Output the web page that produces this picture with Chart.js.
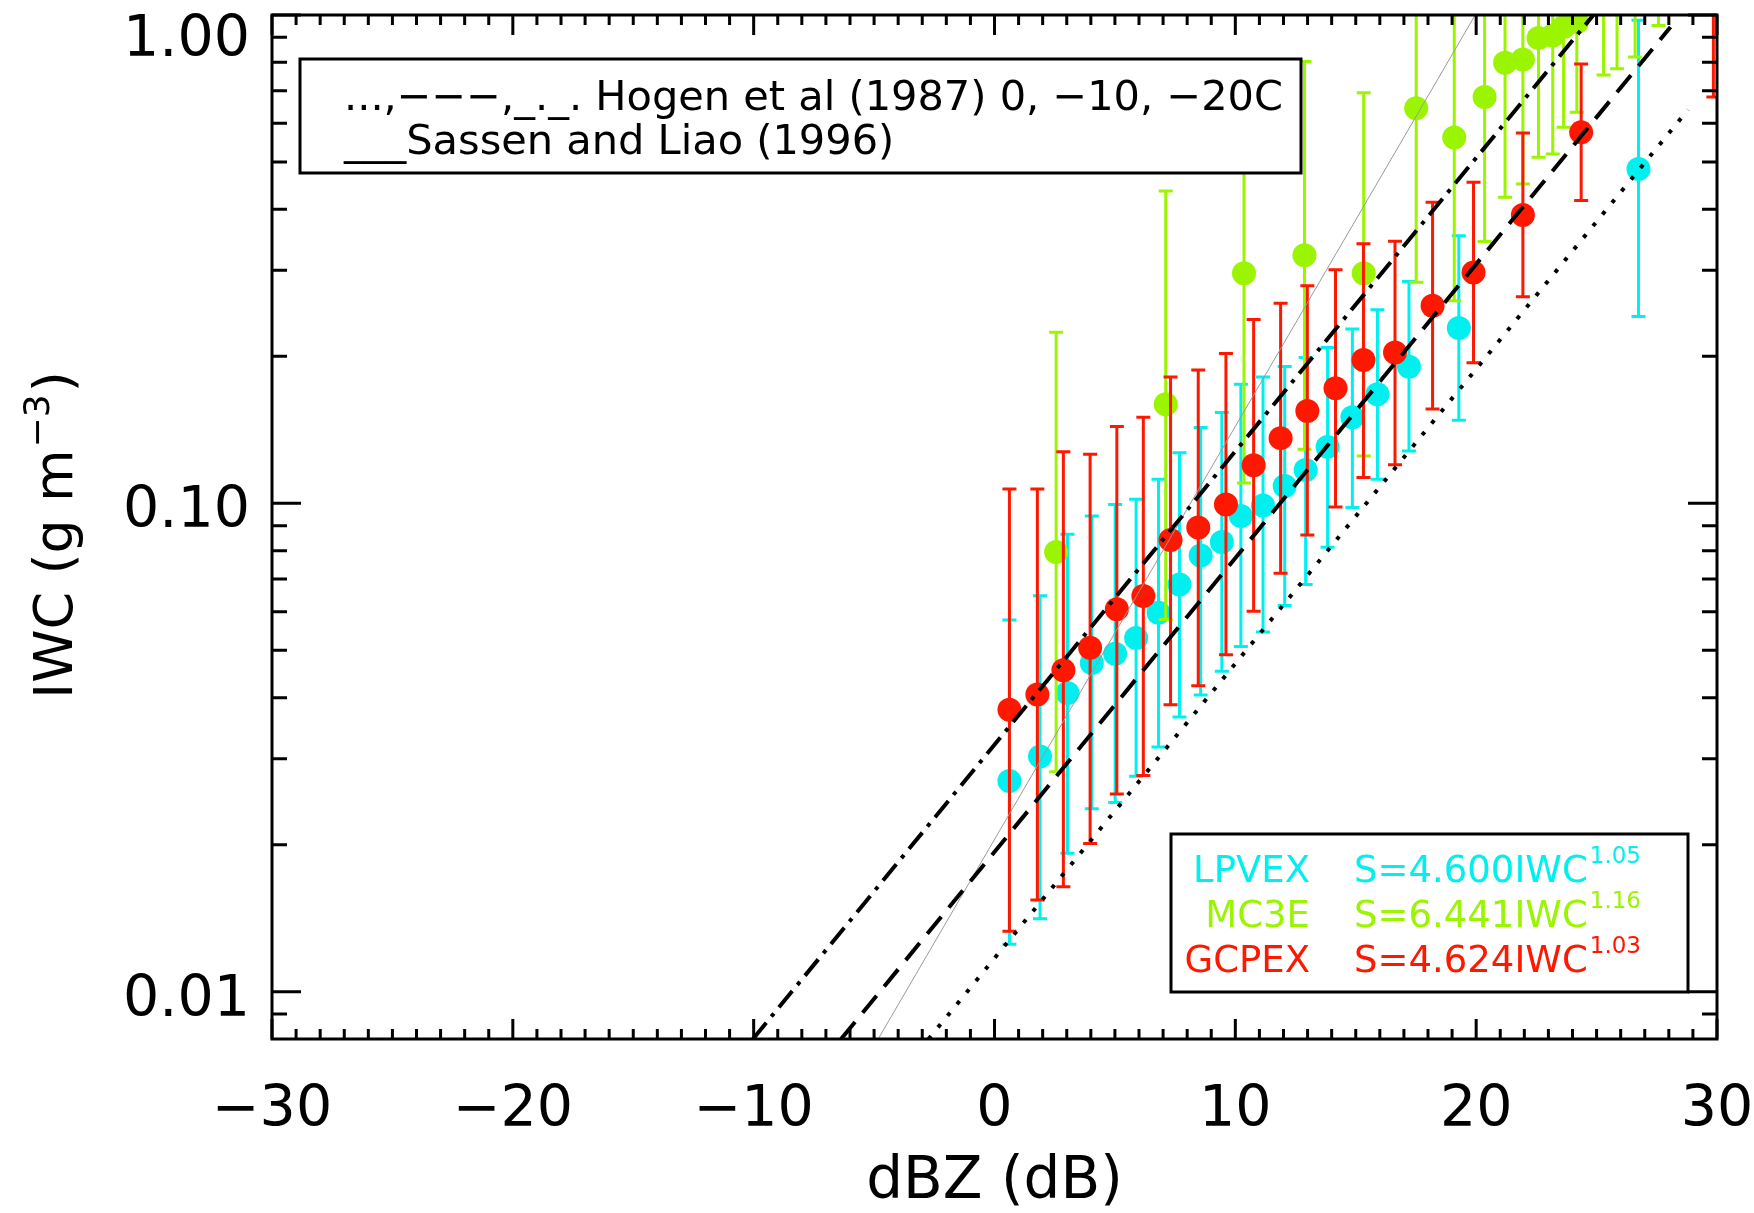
<!DOCTYPE html>
<html>
<head>
<meta charset="utf-8">
<script src="https://cdn.jsdelivr.net/npm/chart.js@4.4.0/dist/chart.umd.min.js"></script>
<style>
html, body { margin: 0; padding: 0; background: #fff; }
</style>
</head>
<body>
<canvas id="iwcChart" width="1754" height="1213"></canvas>
<script>
// LPVEX (cyan)
const lpvexDbz = [0.62, 1.89, 3.03, 4.04, 5.01, 5.88, 6.81, 7.68, 8.56, 9.44, 10.23, 11.15, 12.05, 12.92, 13.83, 14.86, 15.90, 17.21, 19.28, 26.74];
const lpvexIwc = [0.0270, 0.0303, 0.0409, 0.0471, 0.0492, 0.0530, 0.0597, 0.0682, 0.0782, 0.0833, 0.0942, 0.0990, 0.1085, 0.1170, 0.1305, 0.1500, 0.1673, 0.1905, 0.2286, 0.484];
const lpvexHi = [0.0577, 0.0647, 0.0864, 0.0942, 0.0995, 0.102, 0.112, 0.127, 0.143, 0.1535, 0.1754, 0.1815, 0.1906, 0.199, 0.2085, 0.2274, 0.249, 0.2847, 0.353, 0.975];
const lpvexLo = [0.0125, 0.0141, 0.0192, 0.0237, 0.0244, 0.0276, 0.0317, 0.0365, 0.0405, 0.0453, 0.0509, 0.0545, 0.0618, 0.0682, 0.0813, 0.098, 0.112, 0.128, 0.148, 0.2414];

// MC3E (green)
const mc3eDbz = [2.56, 7.11, 10.36, 12.87, 15.33, 17.51, 19.09, 20.35, 21.20, 21.94, 22.59, 23.18, 23.63, 24.18, 25.29, 25.85, 26.60, 27.57];
const mc3eIwc = [0.0795, 0.1595, 0.296, 0.322, 0.296, 0.644, 0.561, 0.679, 0.798, 0.811, 0.897, 0.908, 0.945, 0.967, 1.20, 1.25, 1.30, 1.40];
const mc3eHi = [0.224, 0.436, 0.794, 0.803, 0.693, 1.5, 1.5, 1.5, 1.6, 1.6, 1.7, 1.7, 1.8, 1.8, 2.0, 2.0, 2.0, 2.0];
const mc3eLo = [0.0282, 0.0578, 0.110, 0.129, 0.125, 0.2835, 0.260, 0.3435, 0.4235, 0.451, 0.5115, 0.519, 0.589, 0.632, 0.754, 0.776, 0.820, 0.952];

// GCPEX (red)
const gcpexDbz = [0.62, 1.78, 2.86, 3.97, 5.08, 6.18, 7.31, 8.46, 9.61, 10.76, 11.88, 12.99, 14.16, 15.32, 16.63, 18.19, 19.89, 21.94, 24.36, 29.85];
const gcpexIwc = [0.0378, 0.0406, 0.0455, 0.0506, 0.0607, 0.0646, 0.0841, 0.0892, 0.0995, 0.1197, 0.136, 0.1545, 0.172, 0.1965, 0.2037, 0.2538, 0.297, 0.3895, 0.575, 1.15];
const gcpexHi = [0.107, 0.107, 0.1276, 0.126, 0.1436, 0.150, 0.1815, 0.1875, 0.2027, 0.238, 0.257, 0.279, 0.301, 0.340, 0.344, 0.4135, 0.4545, 0.573, 0.794, 1.9];
const gcpexLo = [0.0133, 0.0154, 0.0164, 0.0201, 0.0254, 0.0277, 0.0387, 0.0423, 0.0490, 0.0601, 0.0719, 0.0861, 0.0983, 0.113, 0.120, 0.156, 0.194, 0.265, 0.417, 0.679];

// reference relations, end points
const hogen0Dbz = [-2.74, 28.8];
const hogen0Iwc = [0.008, 0.64];
const hogen10Dbz = [-6.37, 28.07];
const hogen10Iwc = [0.008, 0.945];
const hogen20Dbz = [-10.03, 24.87];
const hogen20Iwc = [0.008, 1.0];
const sassenDbz = [-4.83, 19.96];
const sassenIwc = [0.008, 1.0];

// axes
const xTickValues = [-30, -20, -10, 0, 10, 20, 30];
const xTickLabels = ['\u221230', '\u221220', '\u221210', '0', '10', '20', '30'];
const yTickValues = [0.01, 0.1, 1];
const yTickLabels = ['0.01', '0.10', '1.00'];

// fit legend
const fitNames = ['LPVEX', 'MC3E', 'GCPEX'];
const fitCoefs = ['4.600', '6.441', '4.624'];
const fitExps = ['1.05', '1.16', '1.03'];

const CYAN = '#00F0F0';
const GREEN = '#9BF400';
const RED = '#FF1800';
const fitColors = [CYAN, GREEN, RED];
const FONT = "'DejaVu Sans ExtraLight', 'DejaVu Sans', sans-serif";

const toPoints = (xs, ys) => xs.map((x, i) => ({ x: x, y: ys[i] }));

const pointSet = (label, xs, ys, lo, hi, color, order) => ({
    label: label,
    data: toPoints(xs, ys),
    errLo: lo,
    errHi: hi,
    showLine: false,
    pointRadius: 12,
    pointHoverRadius: 12,
    pointBackgroundColor: color,
    pointBorderWidth: 0,
    errColor: color,
    clip: 0,
    order: order
});

const lineSet = (label, xs, ys, dash, width, color) => ({
    label: label,
    data: toPoints(xs, ys),
    showLine: true,
    pointRadius: 0,
    borderColor: color,
    borderWidth: width,
    borderDash: dash,
    clip: 0,
    order: 0
});

// error bars, ticks, labels and the two legend boxes
const idlPlot = {
    id: 'idlPlot',
    beforeDatasetDraw(chart, args) {
        const ds = chart.data.datasets[args.index];
        if (!ds.errLo) return;
        const { ctx, chartArea: a, scales: { x, y } } = chart;
        ctx.save();
        ctx.beginPath();
        ctx.rect(a.left, a.top, a.right - a.left, a.bottom - a.top);
        ctx.clip();
        ctx.strokeStyle = ds.errColor;
        ctx.lineWidth = 3;
        ds.data.forEach((p, i) => {
            const px = x.getPixelForValue(p.x);
            const lo = y.getPixelForValue(ds.errLo[i]);
            const hi = y.getPixelForValue(ds.errHi[i]);
            ctx.beginPath();
            ctx.moveTo(px, lo);
            ctx.lineTo(px, hi);
            ctx.moveTo(px - 7, lo);
            ctx.lineTo(px + 7, lo);
            ctx.moveTo(px - 7, hi);
            ctx.lineTo(px + 7, hi);
            ctx.stroke();
        });
        ctx.restore();
    },
    afterDraw(chart) {
        const { ctx, chartArea: a, scales: { x, y } } = chart;
        ctx.save();
        ctx.strokeStyle = '#000';
        ctx.fillStyle = '#000';
        ctx.lineWidth = 3;

        // ticks on all four sides, pointing inward
        ctx.beginPath();
        for (let v = -30; v <= 30; v++) {
            const px = x.getPixelForValue(v);
            const len = v % 10 === 0 ? 20 : 10;
            ctx.moveTo(px, a.bottom);
            ctx.lineTo(px, a.bottom - len);
            ctx.moveTo(px, a.top);
            ctx.lineTo(px, a.top + len);
        }
        for (let e = -3; e <= 0; e++) {
            for (let m = 1; m <= 9; m++) {
                const v = m * Math.pow(10, e);
                if (v < y.min * 1.001 || v > y.max * 1.001) continue;
                const py = y.getPixelForValue(v);
                const len = m === 1 ? 29 : 15;
                ctx.moveTo(a.left, py);
                ctx.lineTo(a.left + len, py);
                ctx.moveTo(a.right, py);
                ctx.lineTo(a.right - len, py);
            }
        }
        ctx.stroke();
        ctx.strokeRect(a.left, a.top, a.right - a.left, a.bottom - a.top);

        // tick labels
        ctx.font = '57px ' + FONT;
        ctx.textBaseline = 'alphabetic';
        ctx.textAlign = 'center';
        xTickValues.forEach((v, i) => {
            ctx.fillText(xTickLabels[i], x.getPixelForValue(v), a.bottom + 87);
        });
        ctx.textAlign = 'right';
        yTickValues.forEach((v, i) => {
            const base = Math.max(y.getPixelForValue(v) + 24, a.top + 41);
            ctx.fillText(yTickLabels[i], a.left - 22, base);
        });

        // axis titles
        ctx.font = '58px ' + FONT;
        ctx.textAlign = 'center';
        ctx.fillText('dBZ (dB)', (a.left + a.right) / 2, a.bottom + 159);

        ctx.save();
        ctx.translate(72, (a.top + a.bottom) / 2 + 8);
        ctx.rotate(-Math.PI / 2);
        ctx.textAlign = 'left';
        const t1 = 'IWC (g m', t2 = '\u22123', t3 = ')';
        ctx.font = '54px ' + FONT;
        const w1 = ctx.measureText(t1).width, w3 = ctx.measureText(t3).width;
        ctx.font = '36px ' + FONT;
        const w2 = ctx.measureText(t2).width;
        let sx = -(w1 + w2 + w3 + 4) / 2;
        ctx.font = '54px ' + FONT;
        ctx.fillText(t1, sx, 0);
        ctx.font = '36px ' + FONT;
        ctx.fillText(t2, sx + w1 + 2, -23);
        ctx.font = '54px ' + FONT;
        ctx.fillText(t3, sx + w1 + w2 + 4, 0);
        ctx.restore();

        // relations legend, top left
        ctx.fillStyle = '#fff';
        ctx.fillRect(300, 59, 1001, 114);
        ctx.strokeRect(300, 59, 1001, 114);
        ctx.fillStyle = '#000';
        ctx.font = '41.5px ' + FONT;
        ctx.textAlign = 'left';
        ctx.fillText('...,\u2212\u2212\u2212,_._. Hogen et al (1987) 0, \u221210, \u221220C', 344, 110);
        ctx.fillText('___Sassen and Liao (1996)', 344, 154);

        // fit legend, bottom right
        ctx.fillStyle = '#fff';
        ctx.fillRect(1171, 834, 517, 158);
        ctx.strokeRect(1171, 834, 517, 158);
        fitNames.forEach((name, i) => {
            const base = 882 + i * 45;
            ctx.fillStyle = fitColors[i];
            ctx.font = '37px ' + FONT;
            ctx.textAlign = 'right';
            ctx.fillText(name, 1310, base);
            ctx.textAlign = 'left';
            const eq = 'S=' + fitCoefs[i] + 'IWC';
            ctx.fillText(eq, 1354, base);
            const we = ctx.measureText(eq).width;
            ctx.font = '23px ' + FONT;
            ctx.fillText(fitExps[i], 1354 + we + 2, base - 19);
        });
        ctx.restore();
    }
};

new Chart(document.getElementById('iwcChart'), {
    type: 'scatter',
    data: {
        datasets: [
            lineSet('Hogen 0C', hogen0Dbz, hogen0Iwc, [4, 11], 4, '#000'),
            lineSet('Hogen -10C', hogen10Dbz, hogen10Iwc, [22, 12], 4, '#000'),
            lineSet('Hogen -20C', hogen20Dbz, hogen20Iwc, [21, 8, 4, 8], 4, '#000'),
            lineSet('Sassen and Liao', sassenDbz, sassenIwc, [], 1, '#9a9a9a'),
            pointSet('GCPEX', gcpexDbz, gcpexIwc, gcpexLo, gcpexHi, RED, 1),
            pointSet('MC3E', mc3eDbz, mc3eIwc, mc3eLo, mc3eHi, GREEN, 2),
            pointSet('LPVEX', lpvexDbz, lpvexIwc, lpvexLo, lpvexHi, CYAN, 3)
        ]
    },
    options: {
        responsive: false,
        devicePixelRatio: 1,
        animation: false,
        events: [],
        layout: { padding: { left: 272, right: 37, top: 15, bottom: 174 } },
        plugins: { legend: { display: false }, tooltip: { enabled: false }, title: { display: false } },
        scales: {
            x: { type: 'linear', min: -30, max: 30, display: false },
            y: { type: 'logarithmic', min: 0.008, max: 1.0, display: false }
        }
    },
    plugins: [idlPlot]
});
</script>
</body>
</html>
